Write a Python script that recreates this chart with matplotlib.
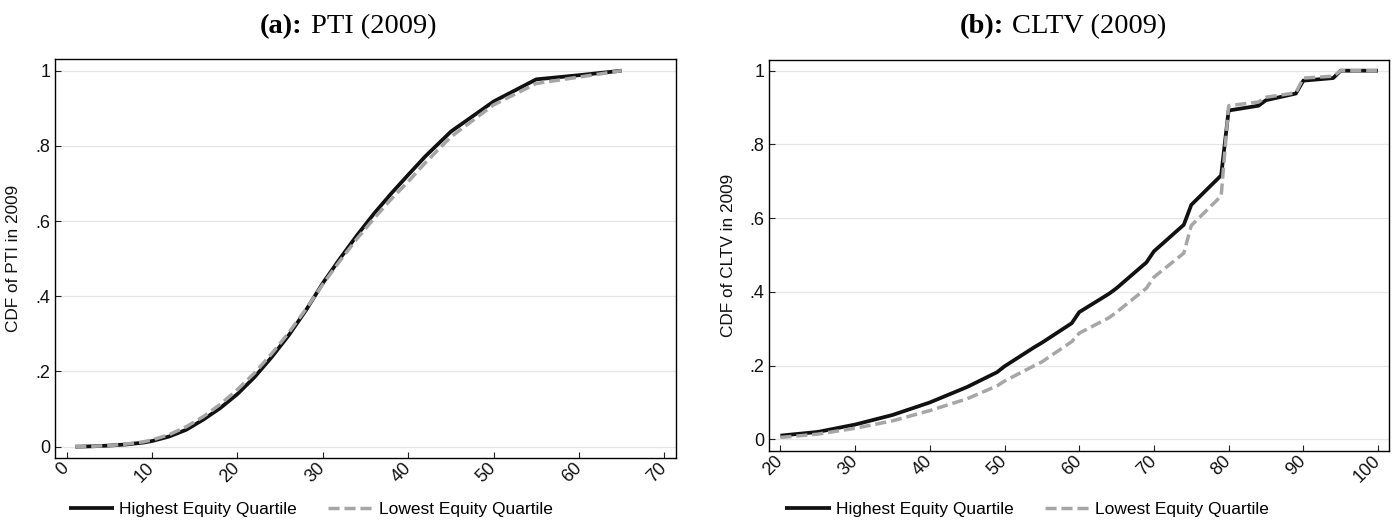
import matplotlib
matplotlib.use("Agg")
import matplotlib.pyplot as plt
from matplotlib.offsetbox import TextArea, HPacker, AnchoredOffsetbox

# ---------------- data ----------------
pti_x = [1, 3, 5, 7, 9, 10, 12, 14, 16, 18, 20, 22, 24, 26, 28, 30, 32, 34, 36, 38, 40, 42, 45, 50, 55, 60, 65]
pti_high = [0.0, 0.001, 0.003, 0.006, 0.011, 0.015, 0.027, 0.045, 0.072, 0.103, 0.140, 0.185, 0.238, 0.296,
            0.362, 0.435, 0.500, 0.562, 0.620, 0.673, 0.723, 0.772, 0.838, 0.918, 0.977, 0.988, 1.0]
pti_low = [0.0, 0.001, 0.003, 0.007, 0.013, 0.018, 0.032, 0.053, 0.080, 0.113, 0.152, 0.196, 0.247, 0.303,
           0.365, 0.432, 0.494, 0.553, 0.607, 0.658, 0.705, 0.755, 0.824, 0.909, 0.966, 0.983, 1.0]

cltv_x = [20, 25, 30, 35, 40, 45, 49, 50, 54, 55, 59, 60, 64, 65, 69, 70, 74, 75, 79, 80, 84, 85, 89, 90, 94, 95, 100]
cltv_high = [0.010, 0.020, 0.040, 0.066, 0.100, 0.142, 0.182, 0.198, 0.250, 0.262, 0.315, 0.345, 0.395, 0.410,
             0.480, 0.510, 0.582, 0.636, 0.716, 0.892, 0.905, 0.920, 0.938, 0.973, 0.980, 1.0, 1.0]
cltv_low = [0.005, 0.014, 0.030, 0.050, 0.078, 0.110, 0.145, 0.158, 0.200, 0.210, 0.265, 0.288, 0.330, 0.345,
            0.410, 0.440, 0.505, 0.580, 0.660, 0.905, 0.915, 0.928, 0.940, 0.980, 0.985, 1.0, 1.0]

series_labels = ["Highest Equity Quartile", "Lowest Equity Quartile"]
y_ticks = [0, 0.2, 0.4, 0.6, 0.8, 1.0]
y_ticklabels = ["0", ".2", ".4", ".6", ".8", "1"]
pti_xticks = [0, 10, 20, 30, 40, 50, 60, 70]
cltv_xticks = [20, 30, 40, 50, 60, 70, 80, 90, 100]

# ---------------- style ----------------
W, H = 1397, 523
SANS = ["Liberation Sans", "DejaVu Sans"]
SERIF = ["Liberation Serif", "DejaVu Serif"]
plt.rcParams["font.family"] = SANS

BLACK = "#111111"
GRAY = "#a6a6a6"
GRID = "#e6e6e6"

fig = plt.figure(figsize=(W / 100, H / 100), dpi=100)
fig.patch.set_facecolor("white")

ax1 = fig.add_axes([55 / W, 1 - 457.7 / H, 621 / W, (457.7 - 59.3) / H])
ax2 = fig.add_axes([769 / W, 1 - 450.7 / H, 620 / W, (450.7 - 60) / H])


def style_axes(ax, x, hi, lo, xticks, xlim, ylim, ylabel):
    ax.plot(x, hi, color=BLACK, lw=2.7, solid_capstyle="butt", label=series_labels[0], zorder=3)
    ax.plot(x, lo, color=GRAY, lw=2.5, dashes=(3.2, 1.4), label=series_labels[1], zorder=4)
    ax.set_xlim(*xlim)
    ax.set_ylim(*ylim)
    ax.set_yticks(y_ticks)
    ax.set_yticklabels(y_ticklabels)
    ax.set_xticks(xticks)
    ax.set_xticklabels([str(t) for t in xticks], rotation=45, ha="right", va="center",
                       rotation_mode="anchor")
    ax.tick_params(axis="both", direction="in", length=4.3, width=0.8, color="#222222",
                   labelsize=13, labelcolor="#111111")
    ax.tick_params(axis="y", pad=3.4)
    ax.tick_params(axis="x", pad=5.5)
    ax.yaxis.grid(True, color=GRID, lw=0.9, zorder=0)
    ax.set_axisbelow(True)
    for s in ax.spines.values():
        s.set_color("black")
        s.set_linewidth(1.0)
    ax.set_ylabel(ylabel, fontsize=12.4, color="#111111")
    ax.yaxis.set_label_coords(-0.054, 0.5)


style_axes(ax1, pti_x, pti_high, pti_low, pti_xticks, (-1.37, 71.37), (-0.0293, 1.0303),
           "CDF of PTI in 2009")
style_axes(ax2, cltv_x, cltv_high, cltv_low, cltv_xticks, (18.47, 101.47), (-0.0309, 1.029),
           "CDF of CLTV in 2009")

# legends
for ax, x0 in ((ax1, 69), (ax2, 785.5)):
    ax.legend(loc="center left", bbox_to_anchor=(x0 / W, 1 - 509 / H), bbox_transform=fig.transFigure,
              ncol=2, frameon=False, fontsize=12.5, handlelength=2.6, handletextpad=0.3,
              columnspacing=1.8, borderpad=0, borderaxespad=0)

# titles (bold panel letter + regular text)
for bold, rest, xc in (("(a):", "PTI (2009)", 348), ("(b):", "CLTV (2009)", 1063)):
    t1 = TextArea(bold, textprops=dict(fontfamily=SERIF, fontsize=20.5, fontweight="bold", color="black"))
    t2 = TextArea(rest, textprops=dict(fontfamily=SERIF, fontsize=20.5, color="black"))
    box = HPacker(children=[t1, t2], align="baseline", pad=0, sep=6)
    anch = AnchoredOffsetbox(loc="center", child=box, pad=0, borderpad=0, frameon=False,
                             bbox_to_anchor=(xc / W, 1 - 27 / H), bbox_transform=fig.transFigure)
    fig.add_artist(anch)

fig.savefig("out.png", dpi=100, facecolor="white")
